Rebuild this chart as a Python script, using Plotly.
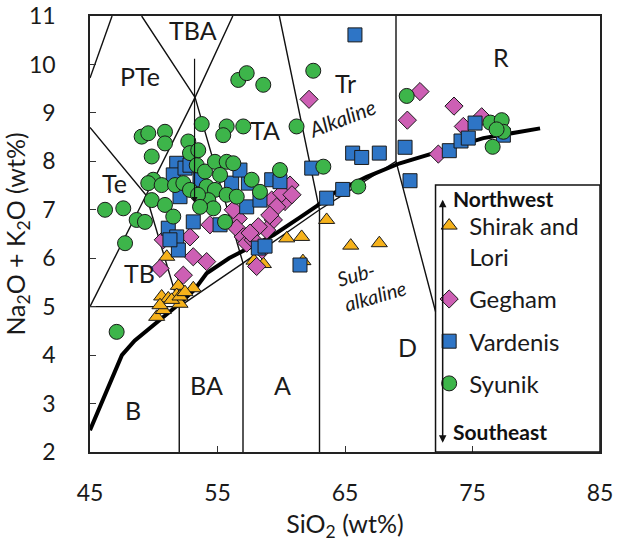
import plotly.graph_objects as go

# ---------------- data ----------------
shirak_sio2 = [51.02, 51.93, 53.10, 50.62, 51.14, 52.06, 50.23, 50.75, 51.80, 51.40, 52.06, 52.45, 50.49,
               60.43, 61.60, 57.86, 58.60, 63.56, 65.45, 67.69, 61.70]
shirak_alk = [6.03, 5.43, 5.38, 5.21, 5.17, 5.06, 4.79, 4.93, 5.24, 5.14, 5.21, 5.30, 5.03,
              6.41, 6.44, 5.95, 5.88, 6.79, 6.26, 6.31, 5.94]

gegham_sio2 = [62.18, 70.88, 73.55, 69.89, 74.28, 75.72, 72.32, 59.25, 60.29, 60.69, 60.04, 59.64, 59.38,
               58.86, 58.20, 56.63, 56.51, 57.02, 57.29, 54.41, 52.84, 50.75, 53.10, 54.15, 50.49, 52.32,
               58.07, 57.80, 56.24, 58.50, 60.84, 57.55, 59.10]
gegham_alk = [9.28, 9.44, 9.14, 8.85, 8.72, 8.92, 8.15, 7.20, 7.17, 7.51, 7.34, 7.06, 6.79,
              6.58, 6.65, 6.82, 6.62, 6.44, 6.31, 6.69, 6.44, 6.38, 6.03, 5.93, 5.79, 5.65,
              5.83, 6.38, 7.00, 6.17, 7.31, 6.52, 6.89]

vardenis_sio2 = [65.78, 51.80, 51.53, 52.06, 53.10, 51.14, 51.80, 51.93, 51.27, 55.20, 57.29, 58.33, 59.25,
                 59.90, 62.39, 63.56, 58.20, 58.73, 61.47, 56.11, 57.42, 64.82, 65.60, 66.31, 67.69, 69.71,
                 70.10, 73.18, 74.10, 74.67, 75.20, 77.42, 52.45, 53.63, 56.76, 52.84]
vardenis_alk = [10.61, 7.96, 7.72, 7.27, 6.75, 6.62, 6.44, 6.17, 6.38, 6.69, 7.06, 7.20, 7.62,
                7.58, 7.86, 7.24, 6.21, 6.25, 5.86, 7.55, 7.55, 7.42, 8.17, 8.08, 8.17, 8.29,
                7.60, 8.22, 8.42, 8.48, 8.79, 8.54, 7.86, 7.62, 7.82, 7.92]

syunik_sio2 = [56.63, 57.29, 58.59, 62.51, 53.76, 55.72, 55.45, 57.02, 61.20, 49.05, 49.57, 50.88, 50.88,
               52.71, 52.84, 53.49, 49.84, 49.96, 49.57, 50.62, 51.67, 52.32, 53.37, 54.02, 54.80, 55.72,
               56.24, 55.20, 54.15, 54.80, 55.72, 56.51, 54.28, 54.67, 57.68, 58.33, 59.90, 63.30, 49.84,
               50.88, 51.53, 46.18, 47.61, 48.66, 49.31, 47.75, 55.59, 47.09, 66.04, 69.84, 76.40, 77.29,
               77.42, 76.89, 76.58, 52.84, 53.47, 53.63]
syunik_alk = [9.68, 9.82, 9.58, 9.87, 8.77, 8.72, 8.54, 8.72, 8.72, 8.51, 8.58, 8.61, 8.37,
              8.41, 8.17, 8.23, 8.10, 7.62, 7.55, 7.51, 7.51, 7.55, 7.92, 7.79, 7.99, 7.99,
              7.96, 7.72, 7.48, 7.41, 7.31, 7.27, 7.20, 7.03, 7.62, 7.37, 7.82, 7.89, 7.20,
              7.10, 6.86, 7.00, 7.03, 6.79, 6.75, 6.31, 6.75, 4.48, 7.48, 9.35, 8.80, 8.85,
              8.61, 8.66, 8.30, 7.41, 7.31, 7.06]

# TAS field boundaries (segments separated by None)
field_sio2 = [45, 46.73, None,
              49.05, 53.24, 56.2, None,
              53.24, 49.4, 45, None,
              49.4, 45, None,
              49.4, 52, None,
              45, 52, 52, None,
              53.24, 57, 57, None,
              52, 57, 63, 69, 72.1, None,
              59.85, 63, 63, None,
              69, 69]
field_alk = [9.72, 11, None,
             11, 9.32, 11, None,
             9.32, 7.3, 8.7, None,
             7.3, 5, None,
             7.3, 5, None,
             5, 5, 2, None,
             9.32, 5.9, 2, None,
             5, 5.9, 7, 8, 4.9, None,
             11, 7, 2, None,
             8, 11]

# Alkaline / sub-alkaline divider
divider_sio2 = [45, 47.5, 48.5, 51.4, 52.06, 53.2, 54.15, 55.9, 57.0, 58.0, 59.4, 61.5, 62.8, 64.1, 66.7,
                69.3, 73.2, 75.85, 80.3]
divider_alk = [2.45, 4.0, 4.3, 4.93, 5.07, 5.35, 5.69, 6.0, 6.15, 6.3, 6.48, 6.85, 7.08, 7.34, 7.68,
               7.96, 8.27, 8.48, 8.68]

field_labels = ["PTe", "TBA", "TA", "Tr", "R", "Te", "TB", "B", "BA", "A", "D"]
label_sio2 = [48.9, 53.1, 58.7, 65.0, 77.2, 46.9, 48.9, 48.4, 54.1, 60.1, 69.9]
label_alk = [9.76, 10.71, 8.65, 9.62, 10.15, 7.55, 5.7, 2.87, 3.38, 3.38, 4.17]

series_names = ["Shirak and<br>Lori", "Gegham", "Vardenis", "Syunik"]

FONT = "Lato, 'Open Sans', sans-serif"

fig = go.Figure()

fig.add_trace(go.Scatter(x=field_sio2, y=field_alk, mode="lines",
                         line=dict(color="#111111", width=1.4), showlegend=False, hoverinfo="skip"))
fig.add_trace(go.Scatter(x=divider_sio2, y=divider_alk, mode="lines",
                         line=dict(color="#000000", width=4), showlegend=False, hoverinfo="skip"))

styles = [
    (shirak_sio2, shirak_alk, "triangle-up", "#F6B21B", 14),
    (gegham_sio2, gegham_alk, "diamond", "#CD5FB4", 14),
    (vardenis_sio2, vardenis_alk, "square", "#2E75C6", 14),
    (syunik_sio2, syunik_alk, "circle", "#3DB54A", 15),
]
for i, (xs, ys, sym, col, sz) in enumerate(styles):
    fig.add_trace(go.Scatter(x=xs, y=ys, mode="markers", name=series_names[i],
                             legendgroup="g%d" % i,
                             marker=dict(symbol=sym, color=col, size=sz,
                                         line=dict(color="#1a1a1a", width=1))))

annotations = []
for t, x, y in zip(field_labels, label_sio2, label_alk):
    annotations.append(dict(x=x, y=y, xref="x", yref="y", text=t, showarrow=False,
                            font=dict(size=25, color="#1a1a1a", family=FONT)))

annotations.append(dict(x=64.8, y=8.9, xref="x", yref="y", text="<i>Alkaline</i>", showarrow=False,
                        textangle=-21, font=dict(size=21, color="#1a1a1a", family=FONT)))
annotations.append(dict(x=67.1, y=5.49, xref="x", yref="y", text="<i>Sub-<br>alkaline</i>", showarrow=False,
                        textangle=-16, align="left", font=dict(size=20, color="#1a1a1a", family=FONT)))

# TBA pointer arrow
annotations.append(dict(x=53.2, y=7.14, ax=53.2, ay=10.15, xref="x", yref="y", axref="x", ayref="y",
                        text="", showarrow=True, arrowhead=2, arrowsize=1, arrowwidth=1.2,
                        arrowcolor="#111111"))
# NW-SE arrow
annotations.append(dict(x=72.66, y=2.19, ax=72.66, ay=7.24, xref="x", yref="y", axref="x", ayref="y",
                        text="", showarrow=True, arrowhead=2, startarrowhead=2, arrowside="end+start",
                        arrowsize=1, arrowwidth=1.5, arrowcolor="#111111"))
annotations.append(dict(x=73.3, y=7.24, xref="x", yref="y", text="<b>Northwest</b>", showarrow=False,
                        xanchor="left", font=dict(size=21, color="#111111", family=FONT)))
annotations.append(dict(x=73.3, y=2.43, xref="x", yref="y", text="<b>Southeast</b>", showarrow=False,
                        xanchor="left", font=dict(size=21, color="#111111", family=FONT)))

fig.update_layout(
    width=617, height=549,
    margin=dict(l=90, r=17, t=16, b=97),
    plot_bgcolor="white", paper_bgcolor="white",
    font=dict(family=FONT, size=21, color="#1a1a1a"),
    annotations=annotations,
    shapes=[dict(type="rect", xref="x", yref="y", x0=72.1, x1=85, y0=2, y1=7.51,
                 line=dict(color="#111111", width=1.5))],
    legend=dict(x=0.665, y=0.570, xanchor="left", yanchor="top", bgcolor="rgba(0,0,0,0)",
                font=dict(size=24, family=FONT), valign="top", tracegroupgap=8,
                itemwidth=30),
    showlegend=True,
)
fig.update_xaxes(range=[45, 85], tick0=45, dtick=10, ticks="inside", ticklen=6, tickcolor="#333",
                 showline=True, mirror=True, linecolor="#222", linewidth=1.5, showgrid=False,
                 zeroline=False, ticklabelstandoff=20, automargin=False, tickfont=dict(size=23),
                 ticklabeloverflow="allow",
                 title=dict(text="SiO<sub>2</sub> (wt%)", font=dict(size=25), standoff=10))
fig.update_yaxes(range=[2, 11], tick0=2, dtick=1, ticks="inside", ticklen=6, tickcolor="#333",
                 showline=True, mirror=True, linecolor="#222", linewidth=1.5, showgrid=False,
                 zeroline=False, ticklabelstandoff=28, automargin=False, tickfont=dict(size=23),
                 ticklabeloverflow="allow",
                 title=dict(text="Na<sub>2</sub>O + K<sub>2</sub>O (wt%)", font=dict(size=25), standoff=0))

# remove the browser's default 8px body margin so the figure fills the window exactly
fig.write_html("out.html", config={"displayModeBar": False},
               post_script="document.body.style.margin='0px';")
